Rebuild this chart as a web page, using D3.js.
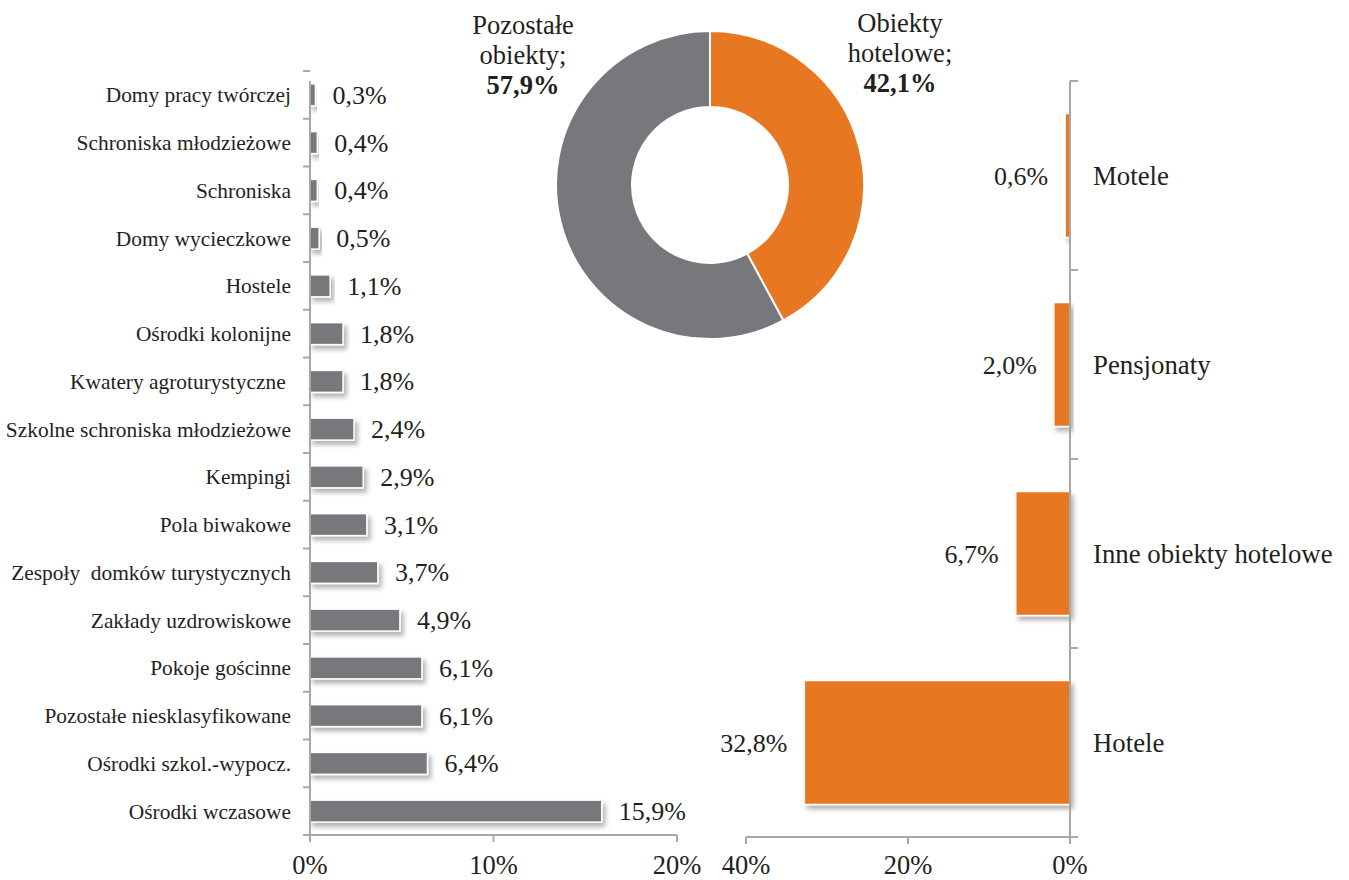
<!DOCTYPE html>
<html>
<head>
<meta charset="utf-8">
<script src="https://cdn.jsdelivr.net/npm/d3@7"></script>
<style>
  body { margin: 0; background: #fff; }
  svg { display: block; font-family: "Liberation Serif", "Times New Roman", serif; }
  text { white-space: pre; }
</style>
</head>
<body>
<svg id="chart" width="1349" height="880"></svg>
<script>
// left bar chart: other accommodation
const otherNames = ['Domy pracy twórczej', 'Schroniska młodzieżowe', 'Schroniska', 'Domy wycieczkowe',
  'Hostele', 'Ośrodki kolonijne', 'Kwatery agroturystyczne ', 'Szkolne schroniska młodzieżowe',
  'Kempingi', 'Pola biwakowe', 'Zespoły  domków turystycznych', 'Zakłady uzdrowiskowe',
  'Pokoje gościnne', 'Pozostałe niesklasyfikowane', 'Ośrodki szkol.-wypocz.', 'Ośrodki wczasowe']
const otherValues = [0.3, 0.4, 0.4, 0.5, 1.1, 1.8, 1.8, 2.4, 2.9, 3.1, 3.7, 4.9, 6.1, 6.1, 6.4, 15.9]
const otherTicks = [0, 10, 20]

// right bar chart: hotel objects
const hotelNames = ['Motele', 'Pensjonaty', 'Inne obiekty hotelowe', 'Hotele']
const hotelValues = [0.6, 2.0, 6.7, 32.8]
const hotelTicks = [40, 20, 0]

// donut
const donutNames = [['Obiekty', 'hotelowe;'], ['Pozostałe', 'obiekty;']]
const donutValues = [42.1, 57.9]

const grey = '#77787b'
const orange = '#e87722'
const axisColor = '#a8a8a8'
const textColor = '#231f20'
const fmt = v => d3.format('.1f')(v).replace('.', ',') + '%'

const svg = d3.select('#chart')

// drop shadow for the bars
const defs = svg.append('defs')
defs.append('filter').attr('id', 'shadow')
  .attr('x', '-10%').attr('y', '-20%').attr('width', '130%').attr('height', '160%')
  .append('feDropShadow')
  .attr('dx', 3).attr('dy', 4).attr('stdDeviation', 2.5)
  .attr('flood-color', '#000').attr('flood-opacity', 0.3)

// ---------- left chart ----------
const xL = d3.scaleLinear().domain([0, 20]).range([310, 677])
const yL = d3.scaleBand().domain(otherNames).range([71, 835]).paddingInner(0.54).paddingOuter(0.27)

const left = svg.append('g')

left.selectAll('.barL')
  .data(otherNames)
  .enter().append('rect')
  .attr('class', 'barL')
  .attr('x', xL(0))
  .attr('y', d => yL(d))
  .attr('width', (d, i) => xL(otherValues[i]) - xL(0))
  .attr('height', yL.bandwidth())
  .attr('fill', grey)
  .attr('stroke', '#fff')
  .attr('stroke-width', 1.5)
  .attr('filter', 'url(#shadow)')

left.selectAll('.valL')
  .data(otherNames)
  .enter().append('text')
  .attr('class', 'valL')
  .attr('x', (d, i) => xL(otherValues[i]) + 17)
  .attr('y', d => yL(d) + yL.bandwidth() / 2)
  .attr('dy', '0.35em')
  .attr('font-size', 26)
  .attr('fill', textColor)
  .text((d, i) => fmt(otherValues[i]))

left.selectAll('.catL')
  .data(otherNames)
  .enter().append('text')
  .attr('class', 'catL')
  .attr('x', 291)
  .attr('y', d => yL(d) + yL.bandwidth() / 2)
  .attr('dy', '0.35em')
  .attr('text-anchor', 'end')
  .attr('font-size', 21.4)
  .attr('fill', textColor)
  .text(d => d)

// y axis line with ticks between categories
const yBottomL = 835
left.append('line')
  .attr('x1', xL(0)).attr('x2', xL(0))
  .attr('y1', 81).attr('y2', yBottomL + 7)
  .attr('stroke', axisColor).attr('stroke-width', 2)
d3.range(otherNames.length + 1).forEach(i => {
  const y = 71 + yL.step() * i
  left.append('line')
    .attr('x1', xL(0) - 7).attr('x2', xL(0))
    .attr('y1', y).attr('y2', y)
    .attr('stroke', axisColor).attr('stroke-width', 2)
})
// x axis
left.append('line')
  .attr('x1', xL(0) - 7).attr('x2', xL(20))
  .attr('y1', yBottomL).attr('y2', yBottomL)
  .attr('stroke', axisColor).attr('stroke-width', 2)
otherTicks.forEach(t => {
  left.append('line')
    .attr('x1', xL(t)).attr('x2', xL(t))
    .attr('y1', yBottomL).attr('y2', yBottomL + 7)
    .attr('stroke', axisColor).attr('stroke-width', 2)
  left.append('text')
    .attr('x', xL(t)).attr('y', 874)
    .attr('text-anchor', 'middle')
    .attr('font-size', 26.5)
    .attr('fill', textColor)
    .text(t + '%')
})

// ---------- right chart ----------
const xR = d3.scaleLinear().domain([0, 40]).range([1070, 746])
const yR = d3.scaleBand().domain(hotelNames).range([81, 837]).paddingInner(0.344).paddingOuter(0.172)

const right = svg.append('g')

right.selectAll('.barR')
  .data(hotelNames)
  .enter().append('rect')
  .attr('class', 'barR')
  .attr('x', (d, i) => xR(hotelValues[i]))
  .attr('y', d => yR(d))
  .attr('width', (d, i) => xR(0) - xR(hotelValues[i]))
  .attr('height', yR.bandwidth())
  .attr('fill', orange)
  .attr('stroke', '#fff')
  .attr('stroke-width', 1.5)
  .attr('filter', 'url(#shadow)')

right.selectAll('.valR')
  .data(hotelNames)
  .enter().append('text')
  .attr('class', 'valR')
  .attr('x', (d, i) => xR(hotelValues[i]) - 17)
  .attr('y', d => yR(d) + yR.bandwidth() / 2)
  .attr('dy', '0.35em')
  .attr('text-anchor', 'end')
  .attr('font-size', 26)
  .attr('fill', textColor)
  .text((d, i) => fmt(hotelValues[i]))

right.selectAll('.catR')
  .data(hotelNames)
  .enter().append('text')
  .attr('class', 'catR')
  .attr('x', 1093)
  .attr('y', d => yR(d) + yR.bandwidth() / 2)
  .attr('dy', '0.35em')
  .attr('font-size', 26.8)
  .attr('fill', textColor)
  .text(d => d)

const yBottomR = 837
right.append('line')
  .attr('x1', xR(0)).attr('x2', xR(0))
  .attr('y1', 81).attr('y2', yBottomR + 7)
  .attr('stroke', axisColor).attr('stroke-width', 2)
d3.range(hotelNames.length + 1).forEach(i => {
  const y = 81 + yR.step() * i
  right.append('line')
    .attr('x1', xR(0)).attr('x2', xR(0) + 8)
    .attr('y1', y).attr('y2', y)
    .attr('stroke', axisColor).attr('stroke-width', 2)
})
right.append('line')
  .attr('x1', xR(40)).attr('x2', xR(0) + 8)
  .attr('y1', yBottomR).attr('y2', yBottomR)
  .attr('stroke', axisColor).attr('stroke-width', 2)
hotelTicks.forEach(t => {
  right.append('line')
    .attr('x1', xR(t)).attr('x2', xR(t))
    .attr('y1', yBottomR).attr('y2', yBottomR + 7)
    .attr('stroke', axisColor).attr('stroke-width', 2)
  right.append('text')
    .attr('x', xR(t)).attr('y', 874)
    .attr('text-anchor', 'middle')
    .attr('font-size', 26.5)
    .attr('fill', textColor)
    .text(t + '%')
})

// ---------- donut ----------
const pie = d3.pie().sort(null)(donutValues)
const arc = d3.arc().innerRadius(78).outerRadius(154)
const donut = svg.append('g').attr('transform', 'translate(710,185)')
donut.selectAll('path')
  .data(pie)
  .enter().append('path')
  .attr('d', arc)
  .attr('fill', (d, i) => i === 0 ? orange : grey)
  .attr('stroke', '#fff')
  .attr('stroke-width', 2)

const labelPos = [{ x: 900, y: 32 }, { x: 523, y: 34 }]
donutNames.forEach((lines, i) => {
  const t = svg.append('text')
    .attr('x', labelPos[i].x).attr('y', labelPos[i].y)
    .attr('text-anchor', 'middle')
    .attr('font-size', 26.5)
    .attr('fill', textColor)
  lines.forEach((l, j) => {
    t.append('tspan').attr('x', labelPos[i].x).attr('dy', j === 0 ? 0 : 30).text(l)
  })
  t.append('tspan').attr('x', labelPos[i].x).attr('dy', 30)
    .attr('font-weight', 'bold')
    .text(fmt(donutValues[i]))
})
</script>
</body>
</html>
